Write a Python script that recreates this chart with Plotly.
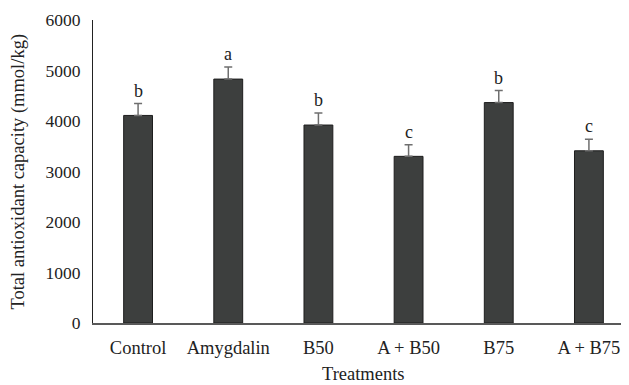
import plotly.graph_objects as go

categories = ["Control", "Amygdalin", "B50", "A + B50", "B75", "A + B75"]
values = [4110, 4830, 3920, 3300, 4365, 3410]
errors = [235, 237, 238, 230, 238, 230]
letters = ["b", "a", "b", "c", "b", "c"]
y_ticks = [0, 1000, 2000, 3000, 4000, 5000, 6000]

FONT = "Liberation Serif"
W, H = 629, 385
# page is drawn with an 8px body offset
L, T, R = 85, 12, 2.5
plot_bottom = 315
B = H - plot_bottom
plot_w = W - L - R
plot_h = plot_bottom - T

fig = go.Figure()
fig.add_trace(go.Bar(
    x=list(range(len(categories))),
    y=values,
    width=0.32,
    marker=dict(color="#3d3f3e", line=dict(color="#1e1e1e", width=1)),
    error_y=dict(type="data", array=errors, symmetric=False, arrayminus=[0]*len(errors),
                 color="#6f6f6f", thickness=1.5, width=4),
    showlegend=False,
))

for i, (v, e, t) in enumerate(zip(values, errors, letters)):
    fig.add_annotation(x=i, y=v + e, text=t, showarrow=False, yanchor="bottom",
                       yshift=1, font=dict(family=FONT, size=18, color="#222222"))

# axis titles
fig.add_annotation(xref="paper", yref="paper", x=0.5, y=-(366 - plot_bottom) / plot_h,
                   text="Treatments", showarrow=False, xanchor="center", yanchor="middle",
                   font=dict(family=FONT, size=18.5, color="#222222"))
fig.add_annotation(xref="paper", yref="paper", x=(10 - L) / plot_w, y=0.5,
                   text="Total antioxidant capacity (mmol/kg)", textangle=-90, showarrow=False,
                   xanchor="center", yanchor="middle",
                   font=dict(family=FONT, size=18.5, color="#222222"))

fig.update_layout(
    width=W, height=H,
    margin=dict(l=L, r=R, t=T, b=B, pad=0),
    plot_bgcolor="white", paper_bgcolor="white",
    font=dict(family=FONT, size=18, color="#222222"),
)
fig.update_xaxes(
    range=[-0.5, 5.5],
    tickvals=list(range(len(categories))), ticktext=categories,
    tickfont=dict(family=FONT, size=18.5, color="#222222"),
    showline=True, linecolor="#595959", linewidth=1.5,
    showgrid=False, zeroline=False, ticks="", ticklabelstandoff=7,
)
fig.update_yaxes(
    range=[0, 6000], tickvals=y_ticks, ticktext=[str(v) for v in y_ticks],
    tickfont=dict(family=FONT, size=17.5, color="#222222"),
    showline=True, linecolor="#222222", linewidth=1,
    showgrid=False, zeroline=False, ticks="", ticklabelstandoff=8,
)

fig.write_html("out.html")
